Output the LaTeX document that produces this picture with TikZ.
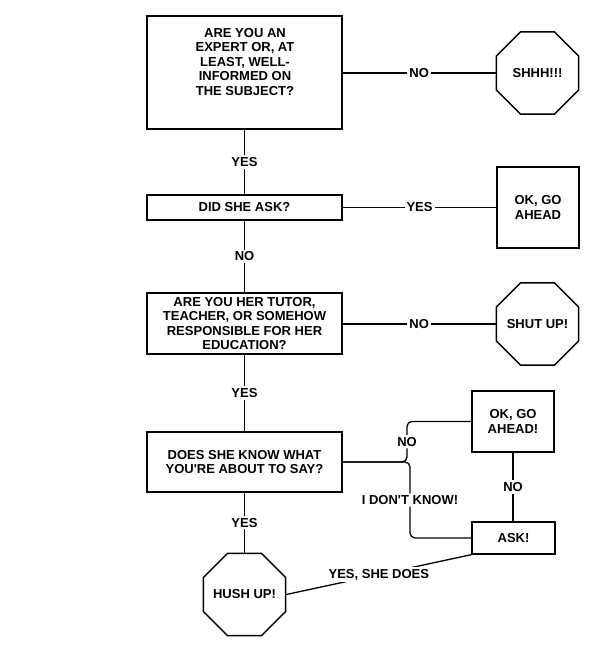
\documentclass[tikz,border=0pt]{standalone}
\usepackage{fontspec}
\setmainfont{Liberation Sans}
\usetikzlibrary{shapes.geometric}
\tikzset{
  every node/.style={font=\fontsize{13}{14.5}\selectfont\bfseries},
  box/.style={draw, line width=1.3pt, fill=white, inner sep=0pt, align=center},
  txt/.style={align=center, inner sep=0pt},
  stop/.style={draw, line width=1.3pt, regular polygon, regular polygon sides=8, minimum size=89pt, inner sep=0pt},
  wire/.style={line width=1.3pt},
  lab/.style={fill=white, inner sep=2pt}
}
\begin{document}
\begin{tikzpicture}[x=1pt,y=-1pt]
\useasboundingbox (0,0) rectangle (600,652);
% questions
\node[box, minimum width=195pt, minimum height=113pt] (q1) at (244.5,72.5) {};
\node[txt] (q1t) at (245,62) {ARE YOU AN\\EXPERT OR, AT\\LEAST, WELL-\\INFORMED ON\\THE SUBJECT?};
\node[box, minimum width=195pt, minimum height=25pt] (q2) at (244.5,207.5) {DID SHE ASK?};
\node[box, minimum width=195pt, minimum height=61pt] (q3) at (244.5,323.5) {ARE YOU HER TUTOR,\\TEACHER, OR SOMEHOW\\RESPONSIBLE FOR HER\\EDUCATION?};
\node[box, minimum width=195pt, minimum height=60pt] (q4) at (244.5,462) {DOES SHE KNOW WHAT\\YOU\textquotesingle RE ABOUT TO SAY?};
% outcomes
\node[stop] (shhh) at (537.5,73) {};
\node[txt] (shhht) at (shhh.center) {SHHH!!!};
\node[box, minimum width=82pt, minimum height=81pt] (ok1) at (538,207.5) {OK, GO\\AHEAD};
\node[stop] (shut) at (537.5,324) {};
\node[txt] (shutt) at (shut.center) {SHUT UP!};
\node[box, minimum width=82pt, minimum height=61pt] (ok2) at (513,421.5) {OK, GO\\AHEAD!};
\node[box, minimum width=83pt, minimum height=32pt] (ask) at (513.5,538) {ASK!};
\node[stop] (hush) at (244.5,594.5) {};
\node[txt] (husht) at (hush.center) {HUSH UP!};
% connectors
\draw[wire] (q1.south) -- node[lab]{YES} (q2.north);
\draw[wire] (q1.east |- shhh.west) -- node[lab]{NO} (shhh.west);
\draw[wire] (q2.south) -- node[lab]{NO} (q3.north);
\draw[wire] (q2.east) -- node[lab]{YES} (ok1.west);
\draw[wire] (q3.south) -- node[lab]{YES} (q4.north);
\draw[wire] (q3.east |- shut.west) -- node[lab]{NO} (shut.west);
\draw[wire] (q4.south) -- node[lab]{YES} (hush.north);
\draw[wire, rounded corners=5pt] (q4.east) -- (407,462) -- node[lab]{NO} (407,421.5) -- (ok2.west);
\draw[wire, rounded corners=5pt] (q4.east) -- (410,462) -- node[lab]{I DON\textquotesingle T KNOW!} (410,538) -- (ask.west);
\draw[wire] (ok2.south) -- node[lab]{NO} (ok2.south |- ask.north);
\draw[wire] (ask.south west) -- node[lab]{YES, SHE DOES} (hush.east);
\end{tikzpicture}
\end{document}
